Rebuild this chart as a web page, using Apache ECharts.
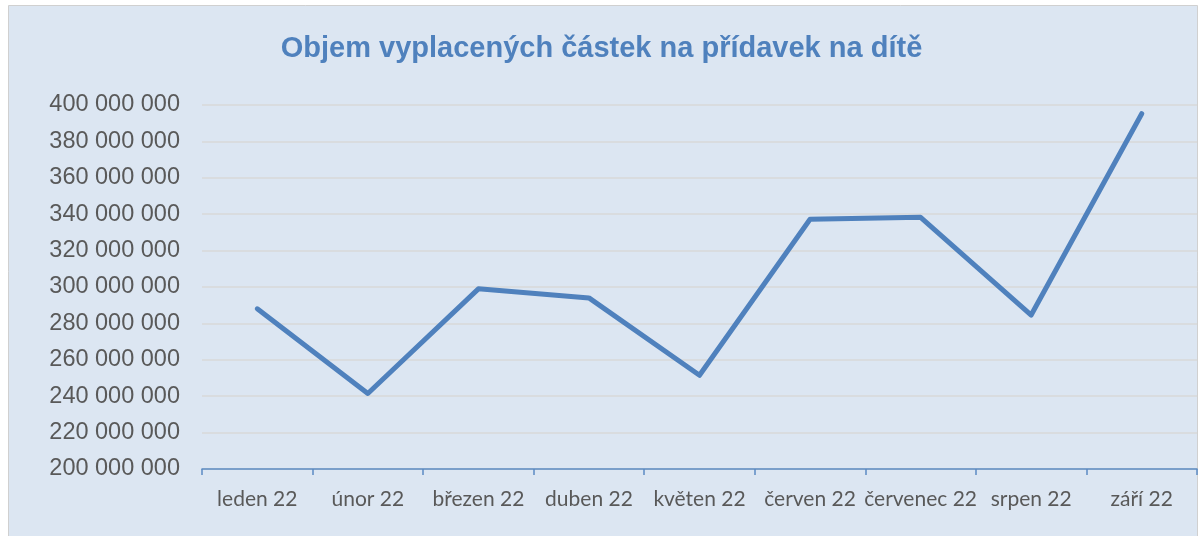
<!DOCTYPE html>
<html>
<head>
<meta charset="utf-8">
<script src="https://cdn.jsdelivr.net/npm/echarts@6/dist/echarts.min.js"></script>
<style>
  html, body { margin: 0; padding: 0; background: #fff; }
  #chart { width: 1203px; height: 536px; }
</style>
</head>
<body>
<div id="chart"></div>
<script>
// měsíce 2022
var months = ['leden 22', 'únor 22', 'březen 22', 'duben 22', 'květen 22',
  'červen 22', 'červenec 22', 'srpen 22', 'září 22'];
// objem vyplacených částek (Kč)
var amounts = [288000000, 241500000, 299000000, 294000000, 251500000,
  337200000, 338300000, 284600000, 395200000];

var myChart = echarts.init(document.getElementById('chart'));

function fmtNum(v) {
  return String(v).replace(/\B(?=(\d{3})+(?!\d))/g, ' ');
}

var option = {
  backgroundColor: '#fff',
  animation: false,
  graphic: [{
    type: 'rect',
    shape: { x: 8.5, y: 5.5, width: 1189, height: 540 },
    style: { fill: '#DCE6F2', stroke: '#D0D0D0', lineWidth: 1 },
    z: -10
  }],
  title: {
    text: 'Objem vyplacených částek na přídavek na dítě',
    left: 'center',
    top: 29,
    textStyle: {
      color: '#4F81BD',
      fontFamily: 'Liberation Sans, Arial, sans-serif',
      fontWeight: 'bold',
      fontSize: 29
    }
  },
  grid: { left: 202, right: 6, top: 105, bottom: 67 },
  xAxis: {
    type: 'category',
    data: months,
    boundaryGap: true,
    axisLine: { lineStyle: { color: '#5B8AC4', width: 1.5 } },
    axisTick: { show: true, length: 6, lineStyle: { color: '#5B8AC4', width: 1.5 } },
    axisLabel: {
      color: '#595959',
      fontFamily: 'Lato, sans-serif',
      fontSize: 21,
      margin: 20,
      interval: 0
    }
  },
  yAxis: {
    type: 'value',
    min: 200000000,
    max: 400000000,
    interval: 20000000,
    axisLine: { show: false },
    axisTick: { show: false },
    splitLine: { lineStyle: { color: '#D9D9D9', width: 1.5 } },
    axisLabel: {
      color: '#595959',
      fontFamily: 'Liberation Sans, Arial, sans-serif',
      fontSize: 23.5,
      margin: 22,
      formatter: fmtNum
    }
  },
  series: [{
    type: 'line',
    data: amounts,
    symbol: 'none',
    lineStyle: { color: '#4F81BD', width: 5, cap: 'round', join: 'round' }
  }]
};

myChart.setOption(option);
</script>
</body>
</html>
